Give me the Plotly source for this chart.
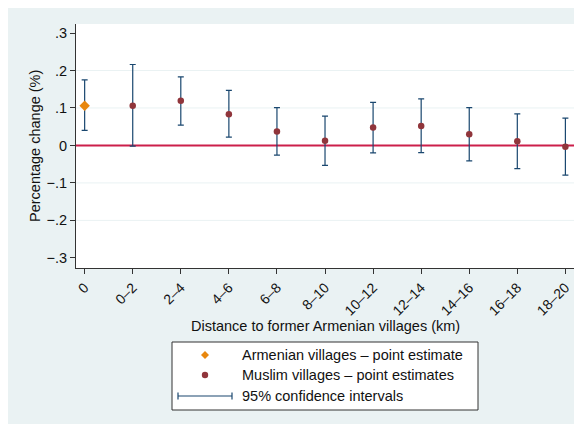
import plotly.graph_objects as go

categories = ["0", "0–2", "2–4", "4–6", "6–8", "8–10", "10–12", "12–14", "14–16", "16–18", "18–20"]
estimates = [0.106, 0.106, 0.119, 0.083, 0.037, 0.0125, 0.048, 0.052, 0.030, 0.0115, -0.0035]
ci_upper = [0.175, 0.216, 0.183, 0.147, 0.101, 0.078, 0.115, 0.124, 0.101, 0.084, 0.073]
ci_lower = [0.040, -0.002, 0.054, 0.022, -0.026, -0.053, -0.020, -0.019, -0.041, -0.062, -0.079]
ytick_vals = [0.3, 0.2, 0.1, 0, -0.1, -0.2, -0.3]
ytick_text = [".3", ".2", ".1", "0", "−.1", "−.2", "−.3"]
grid_vals = [0.2, 0.1, -0.1, -0.2]

NAVY = "#1a476f"
MAROON = "#90353b"
ORANGE = "#e8870e"
RED = "#cc1f4b"
BG = "#eaf2f3"
FONT = "Liberation Sans, Arial, sans-serif"
FS = 14.5

OFF = 8  # page body margin
W, H = 582, 424
# plot area in screen pixels: x 76..575, y 24..268
L = 76 - OFF
T = 24 - OFF
R = W - (575 - OFF)
B = H - (268 - OFF)
PW, PH = 499, 244

def px(x):
    return (x - 76) / PW

def py(y):
    return (268 - y) / PH

xs = list(range(len(categories)))
err_plus = [u - e for u, e in zip(ci_upper, estimates)]
err_minus = [e - l for e, l in zip(estimates, ci_lower)]

fig = go.Figure()
# confidence intervals
fig.add_trace(go.Scatter(
    x=xs, y=estimates, mode="markers",
    marker=dict(size=1, color="rgba(0,0,0,0)"),
    error_y=dict(type="data", symmetric=False, array=err_plus, arrayminus=err_minus,
                 color=NAVY, thickness=1.2, width=3),
    showlegend=False, hoverinfo="skip"))
# Armenian villages point estimate
fig.add_trace(go.Scatter(
    x=xs[:1], y=estimates[:1], mode="markers",
    marker=dict(symbol="diamond", size=8, color=ORANGE),
    showlegend=False))
# Muslim villages point estimates
fig.add_trace(go.Scatter(
    x=xs[1:], y=estimates[1:], mode="markers",
    marker=dict(symbol="circle", size=6.5, color=MAROON),
    showlegend=False))

shapes = []
for g in grid_vals:
    shapes.append(dict(type="line", xref="paper", yref="y", x0=0, x1=1, y0=g, y1=g,
                       line=dict(color=BG, width=1), layer="below"))
shapes.append(dict(type="line", xref="paper", yref="y", x0=0, x1=1, y0=0, y1=0,
                   line=dict(color=RED, width=2), layer="below"))
# legend box
shapes.append(dict(type="rect", xref="paper", yref="paper", x0=px(172), x1=px(478), y0=py(410), y1=py(342),
                   fillcolor="white", line=dict(color="#333333", width=1)))
kx = 205
shapes.append(dict(type="path", xref="paper", yref="paper",
                   path=f"M {px(kx)} {py(351)} L {px(kx+4)} {py(355)} L {px(kx)} {py(359)} L {px(kx-4)} {py(355)} Z",
                   fillcolor=ORANGE, line=dict(width=0)))
shapes.append(dict(type="circle", xref="paper", yref="paper",
                   x0=px(kx-3.2), x1=px(kx+3.2), y0=py(378.2), y1=py(371.8),
                   fillcolor=MAROON, line=dict(width=0)))
shapes.append(dict(type="line", xref="paper", yref="paper", x0=px(178), x1=px(232), y0=py(396), y1=py(396),
                   line=dict(color=NAVY, width=1.2)))
for cx in (178, 232):
    shapes.append(dict(type="line", xref="paper", yref="paper", x0=px(cx), x1=px(cx), y0=py(392.5), y1=py(399.5),
                       line=dict(color=NAVY, width=1.2)))

legend_items = [("Armenian villages – point estimate", 355),
                ("Muslim villages – point estimates", 375),
                ("95% confidence intervals", 396)]
annotations = []
for txt, yy in legend_items:
    annotations.append(dict(text=txt, xref="paper", yref="paper", x=px(240), y=py(yy),
                            xanchor="left", yanchor="middle", showarrow=False,
                            font=dict(family=FONT, size=FS, color="#111111")))
annotations.append(dict(text="Distance to former Armenian villages (km)", xref="paper", yref="paper",
                        x=0.5, y=py(326), xanchor="center", yanchor="middle", showarrow=False,
                        font=dict(family=FONT, size=FS, color="#111111")))
annotations.append(dict(text="Percentage change (%)", xref="paper", yref="paper",
                        x=px(35), y=0.5, xanchor="center", yanchor="middle", textangle=-90, showarrow=False,
                        font=dict(family=FONT, size=FS, color="#111111")))

fig.update_layout(
    width=W, height=H,
    margin=dict(l=L, r=R, t=T, b=B, pad=0),
    paper_bgcolor=BG, plot_bgcolor="white",
    font=dict(family=FONT, size=FS, color="#111111"),
    shapes=shapes, annotations=annotations,
    xaxis=dict(range=[-0.18, 10.2], tickvals=xs, ticktext=categories, tickangle=-45,
               showgrid=False, zeroline=False, showline=True, linecolor="#333333", linewidth=1.2,
               ticks="outside", ticklen=5, tickcolor="#333333", tickfont=dict(size=FS - 0.5)),
    yaxis=dict(range=[-0.327, 0.324], tickvals=ytick_vals, ticktext=ytick_text,
               showgrid=False, zeroline=False, showline=True, linecolor="#333333", linewidth=1.2,
               ticks="outside", ticklen=5, tickcolor="#333333", tickfont=dict(size=FS)),
    showlegend=False,
)

fig.write_html("out.html")
